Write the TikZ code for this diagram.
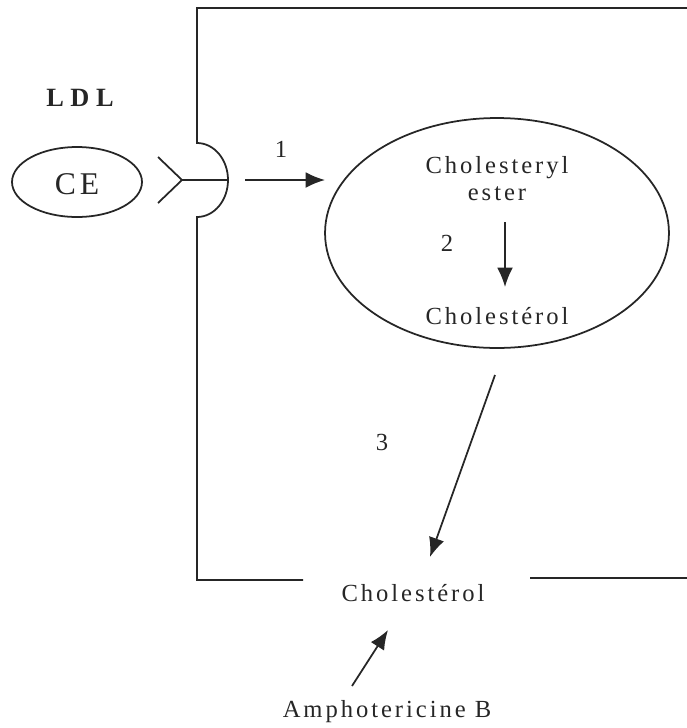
\documentclass[tikz,border=0pt]{standalone}
\usepackage{fontspec}
\setmainfont{Liberation Serif}[LetterSpace=12]
\newfontfamily\widebold{Liberation Serif}[LetterSpace=25]
\usetikzlibrary{arrows.meta,shapes.geometric}

\tikzset{
  ink/.style={draw=black!85, line width=1pt},
  flow/.style={ink, -{Latex[length=11pt,width=9pt]}},
  lbl/.style={inner sep=0pt, text=black!85, font=\fontsize{14}{16}\selectfont},
  blob/.style={ink, ellipse, inner sep=0pt}
}

\begin{document}
\begin{tikzpicture}[x=0.02cm, y=-0.02cm]
  \useasboundingbox (0,0) rectangle (687,728);

  % plasma membrane with the coated pit
  \draw[ink] (687,8) -- (197,8) -- (197,143)
    arc[start angle=-90, end angle=90, x radius=31, y radius=37]
    -- (197,580) -- (303,580);
  \draw[ink] (530,578) -- (687,578);

  % LDL particle docking on its receptor
  \node[lbl, font=\widebold\bfseries\fontsize{15}{17}\selectfont] (ldl) at (80,98) {LDL};
  \node[blob, minimum width=2.6cm, minimum height=1.4cm] (ldlp) at (77,182) {};
  \node[lbl, font=\fontsize{18}{20}\selectfont] (ce) at (77,184) {CE};
  \coordinate (rv) at (182,180);
  \coordinate (ra) at (158,157);
  \coordinate (rb) at (158,203);
  \coordinate (rm) at (228,180);
  \draw[ink] (ra) -- (rv) -- (rb);
  \draw[ink] (rv) -- (rm);

  % uptake into the endosome
  \coordinate (s1) at (245,180);
  \coordinate (e1) at (325,180);
  \draw[flow] (s1) -- (e1);
  \node[lbl] (n1) at (281,149) {1};

  \node[blob, minimum width=6.88cm, minimum height=4.6cm] (endo) at (497,233) {};
  \node[lbl] (ester) at (497,168) {Cholesteryl};
  \node[lbl] (ester2) at (497,194) {ester};
  \node[lbl] (chol1) at (497,316) {Cholestérol};
  \coordinate (s2) at (505,222);
  \coordinate (e2) at (505,287);
  \draw[flow] (s2) -- (e2);
  \node[lbl] (n2) at (447,243) {2};

  % transport to the membrane
  \node[lbl] (chol2) at (413,593) {Cholestérol};
  \coordinate (s3) at (495,375);
  \coordinate (e3) at (430,557);
  \draw[flow] (s3) -- (e3);
  \node[lbl] (n3) at (382,442) {3};

  % drug acting on membrane cholesterol
  \node[lbl] (ampho) at (387,712) {Amphotericine B};
  \coordinate (s4) at (352,686);
  \coordinate (e4) at (388,630);
  \draw[flow] (s4) -- (e4);
\end{tikzpicture}
\end{document}
